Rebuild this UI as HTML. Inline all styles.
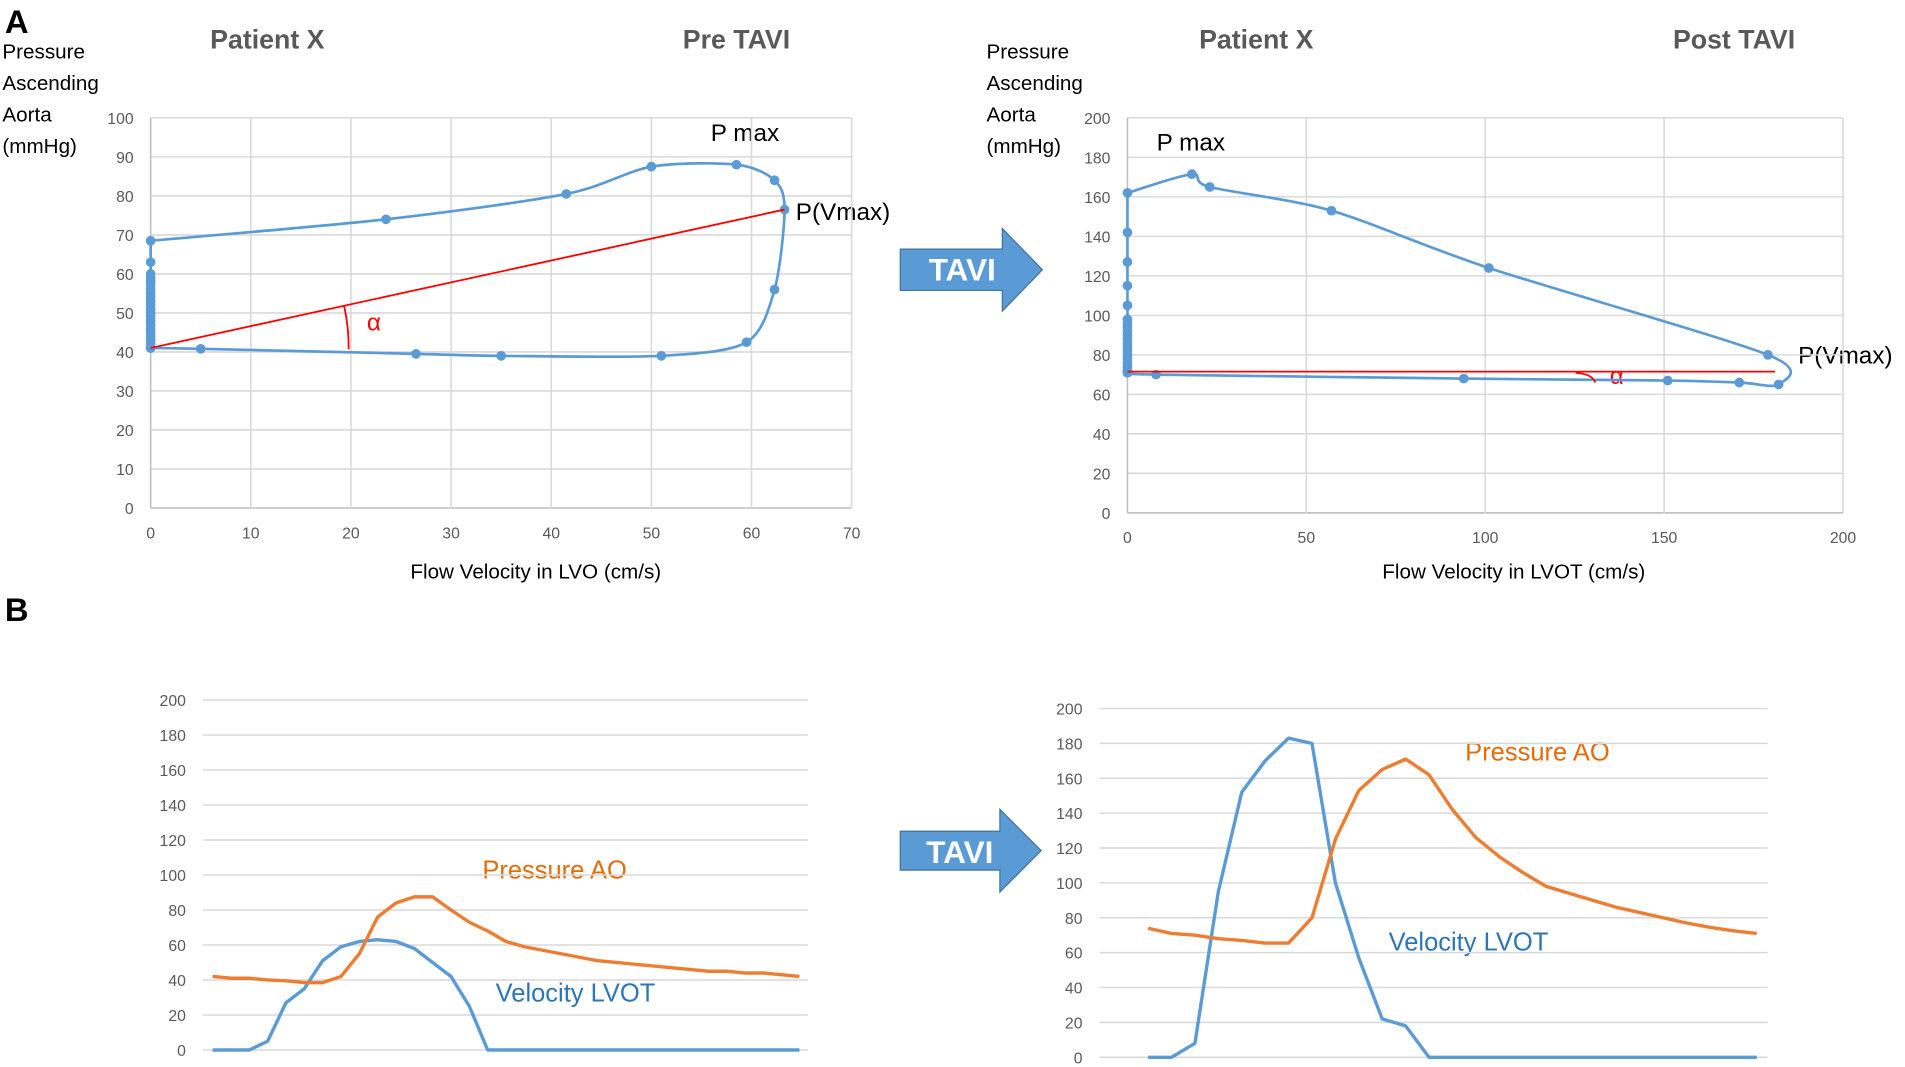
<!DOCTYPE html>
<html><head><meta charset="utf-8">
<style>
html,body{margin:0;padding:0;background:#fff;}
svg{display:block;}
text{font-family:"Liberation Sans",sans-serif;}
</style></head>
<body>
<svg id="fig" width="1905" height="1067" viewBox="0 0 1568 878" preserveAspectRatio="none" xmlns="http://www.w3.org/2000/svg">
<g id="static">
  <text x="4" y="27" font-size="27" font-weight="bold" fill="#000">A</text>
  <text x="4" y="511" font-size="27" font-weight="bold" fill="#000">B</text>
  <text x="173" y="40" font-size="22" font-weight="bold" fill="#595959">Patient X</text>
  <text x="562" y="40" font-size="22" font-weight="bold" fill="#595959">Pre TAVI</text>
  <text x="987" y="40" font-size="22" font-weight="bold" fill="#595959">Patient X</text>
  <text x="1377" y="40" font-size="22" font-weight="bold" fill="#595959">Post TAVI</text>
  <g font-size="17" fill="#000">
    <text x="2" y="48">Pressure</text><text x="2" y="74">Ascending</text><text x="2" y="100">Aorta</text><text x="2" y="126">(mmHg)</text>
  </g>
  <g font-size="17" fill="#000">
    <text x="812" y="48">Pressure</text><text x="812" y="74">Ascending</text><text x="812" y="100">Aorta</text><text x="812" y="126">(mmHg)</text>
  </g>
  <text x="441" y="476" font-size="17" text-anchor="middle" fill="#000">Flow Velocity in LVO (cm/s)</text>
  <text x="1246" y="476" font-size="17" text-anchor="middle" fill="#000">Flow Velocity in LVOT (cm/s)</text>
  <text x="585" y="116" font-size="20" fill="#000">P max</text>
  <text x="655" y="181" font-size="20" fill="#000">P(Vmax)</text>
  <text x="952" y="124" font-size="20" fill="#000">P max</text>
  <text x="1480" y="299" font-size="20" fill="#000">P(Vmax)</text>
  <text x="302" y="272" font-size="20" fill="#ff0000">α</text>
  <text x="1325" y="316" font-size="20" fill="#ff0000">α</text>
  <g>
    <polygon points="741,205 825,205 825,188 858,222 825,256 825,239 741,239" fill="#5B9BD5" stroke="#41719C" stroke-width="1"/>
    <text x="792" y="231" font-size="26" font-weight="bold" fill="#fff" text-anchor="middle">TAVI</text>
  </g>
  <g>
    <polygon points="741,684 823,684 823,666 857,700 823,734 823,716 741,716" fill="#5B9BD5" stroke="#41719C" stroke-width="1"/>
    <text x="790" y="710" font-size="26" font-weight="bold" fill="#fff" text-anchor="middle">TAVI</text>
  </g>
  <text x="397" y="723" font-size="21" fill="#E46C0A">Pressure AO</text>
  <text x="408" y="824" font-size="21" fill="#2E75B6">Velocity LVOT</text>
  <text x="1206" y="626" font-size="21" fill="#E46C0A">Pressure AO</text>
  <text x="1143" y="782" font-size="21" fill="#2E75B6">Velocity LVOT</text>
</g>
<g id="dyn"></g>
</svg>
<script>
// ---- Panel A pre TAVI loop (velocity cm/s, pressure mmHg)
const preLoopV = [0,0,0,0,0,0,0,0,0,0,0,0,0,0,0,0,0,0,0,0,0,0,23.5,41.5,50,58.5,62.3,63.3,62.3,59.5,51,35,26.5,5,0];
const preLoopP = [41,42,43,44,45,46,47,48,49,50,51,52,53,54,55,56,57,58,59,60,63,68.5,74,80.5,87.5,88,84,76.5,56,42.5,39,39,39.5,40.8,41];
const preXTicks = [0,10,20,30,40,50,60,70];
const preYTicks = [0,10,20,30,40,50,60,70,80,90,100];
const preAlphaLine = [[0,41],[63.3,76.5]];
// ---- Panel A post TAVI loop
const postLoopV = [0,0,0,0,0,0,0,0,0,0,0,0,0,0,0,0,0,0,0,0,18,23,57,101,179,182,171,151,94,8,0];
const postLoopP = [71,72,74,76,78,80,82,84,86,88,90,92,94,96,98,105,115,127,142,162,171.5,165,153,124,80,65,66,67,68,70,71];
const postXTicks = [0,50,100,150,200];
const postYTicks = [0,20,40,60,80,100,120,140,160,180,200];
const postAlphaLine = [[0,71.5],[181,71.5]];
// ---- Panel B time series
const bPreVelocity = [0,0,0,5,27,35,51,59,62,63,62,58,50,42,25,0,0,0,0,0,0,0,0,0,0,0,0,0,0,0,0,0,0];
const bPrePressure = [42,41,41,40,39.5,38.5,38.5,42,55,76,84,87.5,87.5,80,73,68,62,59,57,55,53,51,50,49,48,47,46,45,45,44,44,43,42];
const bPostVelocity = [0,0,8,95,152,170,183,180,100,57,22,18,0,0,0,0,0,0,0,0,0,0,0,0,0,0,0];
const bPostPressure = [74,71,70,68,67,65.5,65.5,80,125,153,165,171,162,142,126,115,106,98,94,90,86,83,80,77,74.5,72.5,71];
const bYTicks = [0,20,40,60,80,100,120,140,160,180,200];

const NS="http://www.w3.org/2000/svg";
const dyn=document.getElementById('dyn');
function mk(tag,attrs,parent){const e=document.createElementNS(NS,tag);for(const k in attrs)e.setAttribute(k,attrs[k]);(parent||dyn).appendChild(e);return e;}
function lin(d0,d1,r0,r1){return v=>r0+(v-d0)/(d1-d0)*(r1-r0);}
// spline with straight segments where both endpoints lie on the v=0 axis
function smooth(pts,vals){
  const n=pts.length;
  const straight=i=>i>=0&&i<n-1&&vals[i]===0&&vals[i+1]===0;
  let d='M'+pts[0][0]+','+pts[0][1];
  const t=7;
  for(let i=0;i<n-1;i++){
    const p1=pts[i],p2=pts[i+1];
    if(straight(i)){d+=' L'+p2[0]+','+p2[1];continue;}
    const p0=(i===0||straight(i-1))?p1:pts[i-1];
    const p3=(i+2>n-1||straight(i+1))?p2:pts[i+2];
    d+=' C'+(p1[0]+(p2[0]-p0[0])/t)+','+(p1[1]+(p2[1]-p0[1])/t)+' '+(p2[0]-(p3[0]-p1[0])/t)+','+(p2[1]-(p3[1]-p1[1])/t)+' '+p2[0]+','+p2[1];
  }
  return d;
}

function scatterChart(o){
  const x=lin(o.xmin,o.xmax,o.L,o.R), y=lin(0,o.ymax,o.B,o.T);
  const g=mk('g',{});
  
  
  o.yTicks.forEach(t=>{
    const l=mk('line',{x1:o.L,x2:o.R,y1:y(t),y2:y(t),stroke:t===0?'#bfbfbf':'#d9d9d9','stroke-width':1.3},g);
    
    
    const tx=mk('text',{x:o.L-14,y:y(t)+5,'font-size':13,fill:'#595959','text-anchor':'end'},g);tx.textContent=t;
    
    
  });
  o.xTicks.forEach(t=>{
    const l=mk('line',{x1:x(t),x2:x(t),y1:o.T,y2:o.B,stroke:t===0?'#bfbfbf':'#d9d9d9','stroke-width':1.3},g);
    
    
    const tx=mk('text',{x:x(t),y:o.B+25,'font-size':13,fill:'#595959','text-anchor':'middle'},g);tx.textContent=t;
    
    
  });
  const pts=o.v.map((v,i)=>[x(v),y(o.p[i])]);
  const path=mk('path',{d:smooth(pts,o.v),fill:'none',stroke:'#5B9BD5','stroke-width':2.2},g);
  
  
  pts.forEach(p=>{const c=mk('circle',{cx:p[0],cy:p[1],r:4,fill:'#5B9BD5'},g);
    
    });
  const a=o.alpha;
  const rl=mk('line',{x1:x(a[0][0]),y1:y(a[0][1]),x2:x(a[1][0]),y2:y(a[1][1]),stroke:'#ff0000','stroke-width':1.5},g);
  
  
  const cx=x(a[0][0]),cy=y(a[0][1]);
  const ang=Math.atan2(y(a[1][1])-cy,x(a[1][0])-cx);
  const r=o.arcR;
  let d;
  if(o.arcSmall){d='M'+(cx+r-16)+','+(cy+1)+' Q'+(cx+r-2)+','+(cy+2)+' '+(cx+r)+','+(cy+9);}
  else{const ang2=Math.atan2(y(o.p[o.p.length-3])-cy,x(o.v[o.v.length-3])-cx)*0.3;
    d='M'+(cx+r*Math.cos(ang))+','+(cy+r*Math.sin(ang))+' A'+r+','+r+' 0 0 1 '+(cx+r*Math.cos(ang2))+','+(cy+r*Math.sin(ang2));}
  const arc=mk('path',{d:d,fill:'none',stroke:'#ff0000','stroke-width':1.5},g);
  
  
}
scatterChart({name:'pre-tavi',L:124,R:701,T:97,B:418,xmin:0,xmax:70,ymax:100,xTicks:preXTicks,yTicks:preYTicks,v:preLoopV,p:preLoopP,alpha:preAlphaLine,arcR:163});
scatterChart({name:'post-tavi',L:928,R:1517,T:97,B:422,xmin:0,xmax:200,ymax:200,xTicks:postXTicks,yTicks:postYTicks,v:postLoopV,p:postLoopP,alpha:postAlphaLine,arcR:385,arcSmall:true});

function lineChart(o){
  const y=lin(0,200,o.B,o.T);
  const n=o.vel.length;
  const x=lin(0,n-1,o.x0,o.x1);
  const g=mk('g',{});
  
  
  bYTicks.forEach(t=>{
    const l=mk('line',{x1:o.L,x2:o.R,y1:y(t),y2:y(t),stroke:'#d9d9d9','stroke-width':1.3},g);
    
    
    const tx=mk('text',{x:o.L-14,y:y(t)+5,'font-size':13,fill:'#595959','text-anchor':'end'},g);tx.textContent=t;
    
    
  });
  const vp=mk('polyline',{points:o.vel.map((v,i)=>x(i)+','+y(v)).join(' '),fill:'none',stroke:'#5B9BD5','stroke-width':2.8,'stroke-linejoin':'round'},g);
  
  
  const pp=mk('polyline',{points:o.pres.map((v,i)=>x(i)+','+y(v)).join(' '),fill:'none',stroke:'#ED7D31','stroke-width':2.8,'stroke-linejoin':'round'},g);
  
  
}
lineChart({name:'b-pre',L:167,R:665,T:576,B:864,x0:175,x1:658,vel:bPreVelocity,pres:bPrePressure});
lineChart({name:'b-post',L:905,R:1455,T:583,B:870,x0:945,x1:1446,vel:bPostVelocity,pres:bPostPressure});
</script>
</body></html>
